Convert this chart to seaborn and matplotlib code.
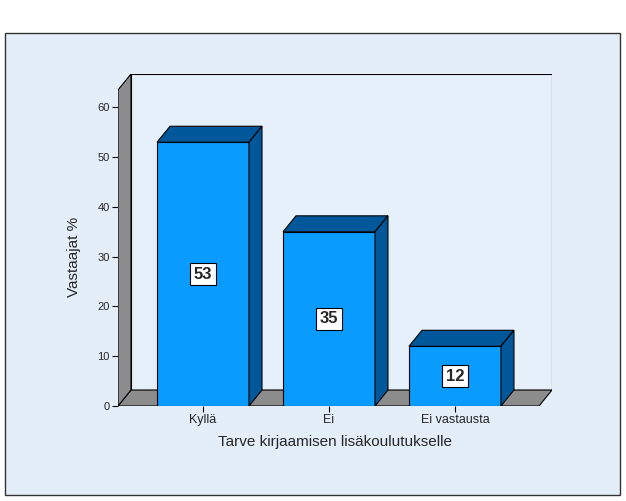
import matplotlib
matplotlib.use("Agg")
import matplotlib.pyplot as plt
import seaborn as sns
import pandas as pd
from matplotlib.patches import Polygon, Rectangle

categories = ["Kyllä", "Ei", "Ei vastausta"]
values = [53, 35, 12]
yticks = [0, 10, 20, 30, 40, 50, 60]

sns.set_theme(style="white")
plt.rcParams['font.family'] = ['Liberation Sans', 'DejaVu Sans']

fig = plt.figure(figsize=(6.26, 5.01), dpi=100)
fig.patches.append(Rectangle((5/626, 6/501), 615/626, 462/501, transform=fig.transFigure,
                             facecolor="#E4EEF9", edgecolor="#333333", lw=1, zorder=-10))
ax = fig.add_axes([118/626, 95/501, 434/626, 332/501])
ax.set_zorder(5)
ax.patch.set_alpha(0)
for s in ax.spines.values():
    s.set_visible(False)

x0, x1 = -0.675, 2.667
dx, dy = 0.103, 3.21
ytop = 63.5

wall = "#E6F0FA"
gray = "#8C8C8C"
ax.add_patch(Polygon([(x0+dx, dy), (x1+dx, dy), (x1+dx, ytop+dy), (x0+dx, ytop+dy)],
                     facecolor=wall, edgecolor="black", lw=0.8, zorder=1))
ax.add_patch(Polygon([(x0, 0), (x1, 0), (x1+dx, dy), (x0+dx, dy)],
                     facecolor=gray, edgecolor="black", lw=0.8, zorder=1))
ax.add_patch(Polygon([(x0, 0), (x0+dx, dy), (x0+dx, ytop+dy), (x0, ytop)],
                     facecolor=gray, edgecolor="black", lw=0.8, zorder=1))

df = pd.DataFrame({"cat": categories, "val": values})
sns.barplot(data=df, x="cat", y="val", color="#0A9BFF", saturation=1, width=0.73,
            edgecolor="black", linewidth=0.8, ax=ax, zorder=3)
ax.set_xlim(x0, x1 + dx)
ax.set_ylim(0, ytop + dy)

dark = "#00579A"
for p, v in zip(ax.patches[3:6], values):
    bx, bw, h = p.get_x(), p.get_width(), p.get_height()
    ax.add_patch(Polygon([(bx, h), (bx+bw, h), (bx+bw+dx, h+dy), (bx+dx, h+dy)],
                         facecolor=dark, edgecolor="black", lw=0.8, zorder=4))
    ax.add_patch(Polygon([(bx+bw, 0), (bx+bw+dx, dy), (bx+bw+dx, h+dy), (bx+bw, h)],
                         facecolor=dark, edgecolor="black", lw=0.8, zorder=4))
    ax.text(bx + bw/2, h/2, str(v), ha="center", va="center", fontsize=12, fontweight="bold",
            zorder=6, bbox=dict(boxstyle="square,pad=0.2", facecolor="white", edgecolor="black", lw=0.8))

ax.set_yticks(yticks)
ax.set_yticklabels([str(t) for t in yticks], fontsize=8)
ax.tick_params(axis="y", length=4, width=0.8, color="black", left=True, pad=2)
ax.tick_params(axis="x", length=4, width=0.8, color="black", bottom=True, pad=2, labelsize=9)
ax.set_xlabel("Tarve kirjaamisen lisäkoulutukselle", fontsize=11, labelpad=6)
ax.set_ylabel("Vastaajat %", fontsize=11, labelpad=8)
ax.yaxis.set_label_coords(-0.085, 0.45)

fig.savefig("out.png", dpi=100)
